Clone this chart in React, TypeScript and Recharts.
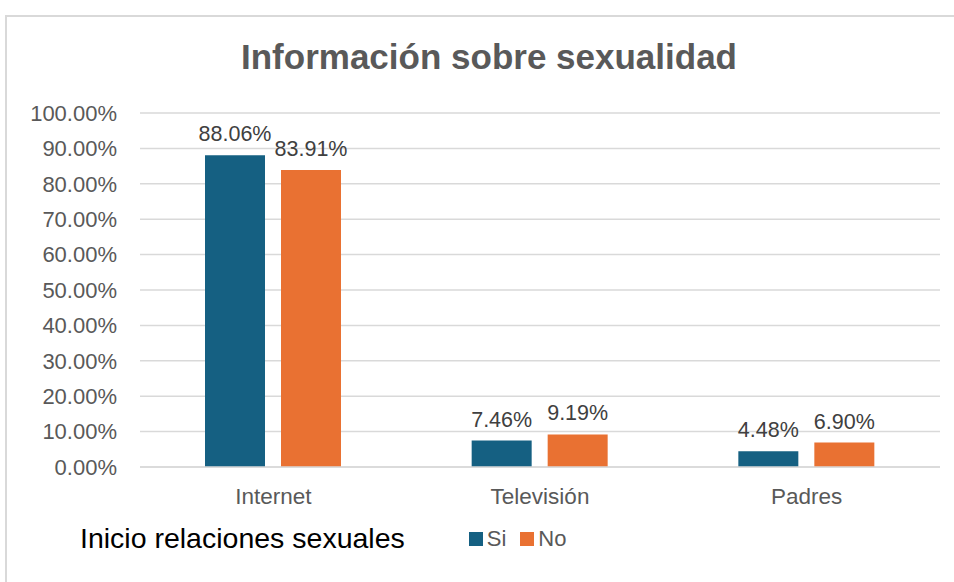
import { BarChart, Bar, XAxis, YAxis, CartesianGrid, Legend, LabelList } from 'recharts'

const categories = ['Internet', 'Televisión', 'Padres']
const siValues = [88.06, 7.46, 4.48]
const noValues = [83.91, 9.19, 6.9]
const yTicks = [0, 10, 20, 30, 40, 50, 60, 70, 80, 90, 100]
const seriesOrder = ['Si', 'No']

const data = categories.map((name, i) => ({ name, si: siValues[i], no: noValues[i] }))

const FONT = '"Liberation Sans", Arial, sans-serif'
const pct = (v: any) => `${Number(v).toFixed(2)}%`

function LegendBox({ payload }: { payload?: any[] }) {
  const items = [...(payload || [])].sort((a, b) => seriesOrder.indexOf(a.value) - seriesOrder.indexOf(b.value))
  return (
    <div style={{ display: 'flex', alignItems: 'center', fontFamily: FONT, whiteSpace: 'nowrap' }}>
      <span style={{ fontSize: 28.5, color: '#000', marginRight: 64 }}>Inicio relaciones sexuales</span>
      {items.map((p: any) => (
        <span key={p.value} style={{ display: 'flex', alignItems: 'center', marginRight: 14, fontSize: 22, color: '#595959' }}>
          <span style={{ width: 14, height: 14, background: p.color, display: 'inline-block', marginRight: 4 }} />
          {p.value}
        </span>
      ))}
    </div>
  )
}

export default function App() {
  return (
    <div style={{ position: 'absolute', left: 0, top: 0, width: 954, height: 582, background: '#fff', overflow: 'hidden' }}>
      <div style={{ position: 'absolute', left: 5, top: 15, width: 980, height: 600, border: '2px solid #d9d9d9' }} />
      <div style={{ position: 'absolute', left: 0, top: 37, width: 978, textAlign: 'center', fontFamily: FONT, fontWeight: 'bold', fontSize: 35, color: '#595959' }}>
        Información sobre sexualidad
      </div>
      <div style={{ position: 'absolute', left: 0, top: 0 }}>
        <BarChart width={954} height={582} data={data} margin={{ top: 113, right: 14, bottom: 0, left: 0 }} barSize={60} barGap={16}>
          <CartesianGrid vertical={false} stroke="#d9d9d9" strokeWidth={1.5} />
          <XAxis
            dataKey="name"
            height={83}
            tickLine={false}
            axisLine={{ stroke: '#d9d9d9', strokeWidth: 1.5 }}
            tickMargin={15}
            tick={{ fill: '#595959', fontSize: 22.5, fontFamily: FONT }}
          />
          <YAxis
            width={140}
            domain={[0, 100]}
            ticks={yTicks}
            tickFormatter={pct}
            tickLine={false}
            axisLine={false}
            tickMargin={17}
            tick={{ fill: '#595959', fontSize: 22, fontFamily: FONT }}
          />
          <Legend
            content={<LegendBox />}
            wrapperStyle={{ position: 'absolute', left: 80, top: 522, width: 600, height: 32 }}
          />
          <Bar dataKey="si" name="Si" fill="#156082" isAnimationActive={false}>
            <LabelList dataKey="si" position="top" offset={14} formatter={pct} style={{ fill: '#404040', fontSize: 21.5, fontFamily: FONT }} />
          </Bar>
          <Bar dataKey="no" name="No" fill="#E97132" isAnimationActive={false}>
            <LabelList dataKey="no" position="top" offset={14} formatter={pct} style={{ fill: '#404040', fontSize: 21.5, fontFamily: FONT }} />
          </Bar>
        </BarChart>
      </div>
    </div>
  )
}
